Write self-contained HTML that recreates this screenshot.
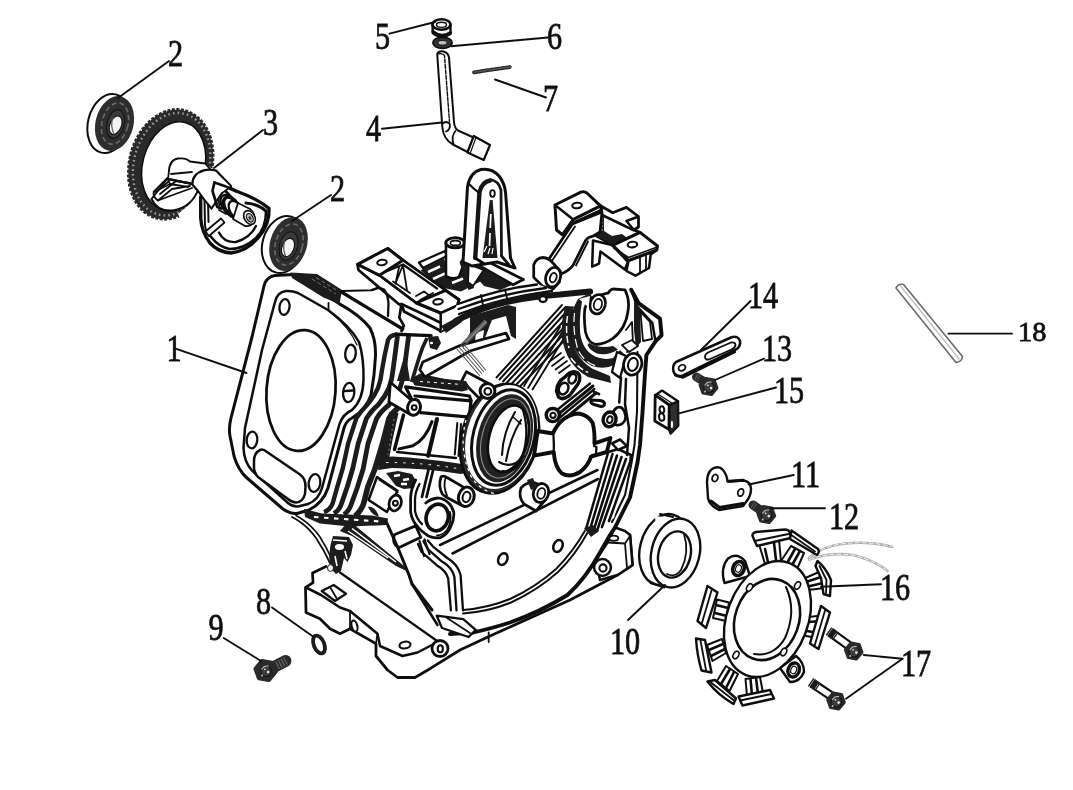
<!DOCTYPE html>
<html><head><meta charset="utf-8"><title>Crankcase assembly</title>
<style>
html,body{margin:0;padding:0;background:#fff;}
body{width:1073px;height:790px;overflow:hidden;font-family:"Liberation Serif",serif;}
svg{display:block;}
.l{stroke:#111;stroke-width:1.8;fill:none;stroke-linecap:round;stroke-linejoin:round;}
.t{stroke:#111;stroke-width:1.2;fill:none;stroke-linecap:round;stroke-linejoin:round;}
.h{stroke:#111;stroke-width:2.7;fill:none;stroke-linecap:round;stroke-linejoin:round;}
.hh{stroke:#111;stroke-width:3.6;fill:none;stroke-linecap:round;stroke-linejoin:round;}
.w{fill:#fff;}
.k{fill:#1a1a1a;stroke:none;}
.g{fill:#444;stroke:none;}
text{font-family:"Liberation Serif",serif;fill:#111;}
</style></head><body>
<svg width="1073" height="790" viewBox="0 0 1073 790">
<defs><filter id="soft" x="0" y="0" width="100%" height="100%" filterUnits="userSpaceOnUse"><feGaussianBlur stdDeviation="0.5"/></filter></defs>
<rect width="1073" height="790" fill="#fff"/>
<g filter="url(#soft)">
<g id="sil">
<!-- silhouette fill -->
<path class="w" d="M404 326 L441 331 L457 320 Q500 300 560 293 L592 291 L613 289 L631 290 L660 318 L662 336 L646 356 L644 400 L640 460 L630 498 L615 528 L632 536 L633 565 L570 600 L490 636 L430 669 L415 678 L397 678 L376 656 L376 644 L350 629 L340 634 L320 619 L306 612 L306 588 L312 572 L330 520 L362 517 L385 440 Z"/>
</g>

<!-- BEARING A (top-left) -->
<g id="bearingA">
<ellipse cx="108.5" cy="123.5" rx="20.5" ry="30" transform="rotate(14 108.5 123.5)" class="w l" style="stroke-width:2"/>
<ellipse cx="114.5" cy="123.5" rx="19" ry="27.9" transform="rotate(13.7 114.5 123.5)" fill="#2e2e2e"/>
<ellipse cx="115" cy="123.5" rx="13" ry="21" transform="rotate(14 115 123.5)" fill="none" stroke="#6a6a6a" stroke-width="1.6" stroke-dasharray="5 3"/>
<ellipse cx="115.5" cy="124" rx="8.5" ry="14.5" transform="rotate(14 115.5 124)" fill="#3a3a3a" stroke="#111" stroke-width="1"/>
<ellipse cx="115.6" cy="125.2" rx="5.8" ry="9.6" transform="rotate(22 115.6 125.2)" fill="#f4f4f4" stroke="#111" stroke-width="1.2"/>
<path d="M112.5 118 Q110.5 126 113.5 133" class="t" style="stroke:#555"/>
</g>
<!-- BEARING B -->
<g id="bearingB">
<ellipse cx="283.5" cy="244.5" rx="21" ry="29" transform="rotate(16 283.5 244.5)" class="w l" style="stroke-width:2"/>
<ellipse cx="288.5" cy="244" rx="18.5" ry="27.5" transform="rotate(16 288.5 244)" fill="#2e2e2e"/>
<ellipse cx="289" cy="244.5" rx="13.5" ry="21" transform="rotate(16 289 244.5)" fill="none" stroke="#6a6a6a" stroke-width="1.6" stroke-dasharray="5 3"/>
<ellipse cx="288.5" cy="246" rx="9" ry="14.5" transform="rotate(16 288.5 246)" fill="#3a3a3a" stroke="#111" stroke-width="1"/>
<ellipse cx="288" cy="247.5" rx="6" ry="9.6" transform="rotate(22 288 247.5)" fill="#f4f4f4" stroke="#111" stroke-width="1.2"/>
<path d="M284.5 241 Q282.5 249 285.5 256" class="t" style="stroke:#555"/>
</g>
<!-- GEAR -->
<g id="gear">
<path fill-rule="evenodd" fill="#2a2a2a" d="
M170.7 164.4 m-42.8 0 a42.8 57.1 0 1 0 85.6 0 a42.8 57.1 0 1 0 -85.6 0 Z
M173.9 165 m-31 0 a31 44.8 0 1 0 62 0 a31 44.8 0 1 0 -62 0 Z" transform="rotate(14.8 170.7 164.4)"/>
<ellipse cx="170.7" cy="164.4" rx="42.8" ry="57.1" transform="rotate(14.8 170.7 164.4)" fill="none" stroke="#fff" stroke-width="3" stroke-dasharray="1.6 3.1"/>
<ellipse cx="171.6" cy="164.2" rx="37.6" ry="52" transform="rotate(14.8 171.6 164.2)" fill="none" stroke="#9a9a9a" stroke-width="2.4" stroke-dasharray="1.6 3.1" stroke-dashoffset="2"/>
<ellipse cx="173.9" cy="165" rx="31" ry="44.8" transform="rotate(14.8 170.7 164.4)" fill="none" stroke="#111" stroke-width="1.6"/>
<path class="w" d="M178 214 L190 204 L199 189 L207 168 L218 168 L218 216 L184 226 Z"/>
</g>

<!-- CAMSHAFT -->
<g id="camshaft">
<!-- hub behind -->
<path class="w l" d="M151.5 199 Q158 213 175 210 Q192 206 198 190 L192 184 L167 179 Z" style="stroke-width:2"/>
<path class="w l" d="M168.8 172.6 Q169 160 178 158.5 Q186 157.5 190 161.5 L205 163.5 L210 169 L193 184 L168 179 Z" style="stroke-width:1.8"/>
<!-- left spindle lines -->
<path class="l" d="M192.4 184 L167 178.5 L153.7 191.6 Q152.5 197 158 200.5 L170 196 L192 188"/>
<path class="l" d="M167.3 178 L170 184 L154 192"/>
<path class="l" d="M170 184 L188 187 M158 200.5 L172 189 L190 186 M171 174 L192 172 M160 194 L176 181 L190 183 M156 192 L168 182"/>
<!-- cam lobe pear -->
<path class="w hh" d="M214.4 182.5 Q226 186 236 191 Q258 199 269 208.5 Q270 224 258 238 Q247 251 231 253 Q218 252 210 243 Q201.5 232 200.7 218 L200.7 197 Z" style="stroke-width:3.4"/>
<path class="h" d="M266 212 Q266 228 256 238 Q244 249 229.6 249 Q219 247 212 238 L206.8 232" style="stroke-width:2.6"/>
<path class="h" d="M204.5 198 L205 226 Q206 232 209 236 M208 200 L208.5 222" style="stroke-width:2"/>
<path class="h" d="M219 232.6 Q224 243 236 242 Q250 238 256 226" style="stroke-width:2.4"/>
<!-- bar -->
<path class="w l" d="M205.5 231.5 L221 218.5 L224.5 222.5 L209 236 Z"/>
<!-- triangle web -->
<path class="h" d="M216 182.5 L212.5 191 L217.4 207 L221 208.5 M219 184 L232 198"/>
<path class="l" d="M216.5 186 L219.5 206"/>
<!-- cylinder (white journal) -->
<path class="w h" d="M192.4 184.5 Q192 174 203.8 170.4 Q210 168.6 216 170.6 L231 186 L222 193 L211.5 208.5 Q204 200 198 191 Z" style="stroke-width:2.2"/>
<path class="w" d="M214 171 L230 186 L222 192 Z" />
<path class="l" d="M216 170.6 L231.5 186.5" style="stroke-width:1.2"/>
<path class="h" d="M214.4 182.5 L212.5 191 L217.4 206.8" />
<path class="h" d="M214.4 182.5 Q226 186 236 191"/>
<!-- spring / bolt -->
<ellipse cx="228.5" cy="205" rx="6.5" ry="11" transform="rotate(-32 228.5 205)" fill="#fff" stroke="#111" stroke-width="2.4"/>
<ellipse cx="231.5" cy="207" rx="6.5" ry="11" transform="rotate(-32 231.5 207)" fill="#fff" stroke="#111" stroke-width="3.6"/>
<ellipse cx="236" cy="210" rx="6" ry="10" transform="rotate(-32 236 210)" fill="#fff" stroke="#111" stroke-width="2.2"/>
<path class="w l" d="M238 203 L250 209 Q256 214 254 221 Q251 227 245 226 L233 219 Z"/>
<ellipse cx="249.5" cy="217.5" rx="5.2" ry="7.4" transform="rotate(-32 249.5 217.5)" fill="#fff" stroke="#111" stroke-width="1.6"/>
<ellipse cx="249.8" cy="217.8" rx="3" ry="4.6" transform="rotate(-32 249.8 217.8)" fill="#bbb" stroke="#111" stroke-width="1.2"/>
<ellipse cx="250" cy="218" rx="1.2" ry="2" transform="rotate(-32 250 218)" fill="#333"/>
<path class="h" d="M246 203 Q258 204 266 211" style="stroke-width:3"/>
<path class="l" d="M219 210 L226 214 M222 207.5 L228 211"/>
</g>

<!-- CAP 5 -->
<g id="cap5">
<path class="w h" d="M432.5 25 L432.8 33 Q441 40 450.5 34 L450.5 25 Z" style="stroke-width:2.4"/>
<path class="h" d="M432.8 31.5 Q441 38.5 450.5 32.5" style="stroke-width:3"/>
<ellipse cx="441.5" cy="24.5" rx="9" ry="5.2" fill="#fff" stroke="#111" stroke-width="2.6"/>
<ellipse cx="441.5" cy="24.8" rx="5" ry="2.6" fill="#fff" stroke="#111" stroke-width="1.4"/>
</g>
<!-- WASHER 6 -->
<g id="washer6">
<ellipse cx="442.5" cy="42.8" rx="9.6" ry="5.6" fill="#333" stroke="#111" stroke-width="1.8"/>
<ellipse cx="442.5" cy="42.8" rx="4.6" ry="2.3" fill="#bbb" stroke="#111" stroke-width="1"/>
</g>
<!-- TUBE 4 -->
<g id="tube4">
<path class="w h" d="M437.2 54 Q439 50.5 443.5 51.5 Q448.5 53 449 57.5 L454 122 Q454.5 128 458 130.5 L473.5 137.5 L467.5 152 L453 144.5 Q443.5 139.5 442.3 127 Z" style="stroke-width:2"/>
<path class="l" d="M437.4 54 Q441 52.5 444.5 55.5 L449.5 122" style="stroke-dasharray:4 1.5;stroke-width:1.4"/>
<path class="l" d="M442.3 124 Q446 120 449.8 124 Q450.5 130 446 131.5"/>
<path class="l" d="M455.5 131 Q451 136 453.5 144.5"/>
<path class="w h" d="M473.7 136 L490 145 L483.7 160 L467.5 152.5 Z" style="stroke-width:2.2"/>
<path class="l" d="M476 137.5 L470.5 152.5" style="stroke-width:1.2"/>
</g>
<!-- PIN 7 -->
<g id="pin7">
<path d="M474 72.3 L511 66.8" stroke="#222" stroke-width="3.8" stroke-linecap="round" stroke-dasharray="3.6 1.8" fill="none"/>
<path d="M474 72.3 L511 66.8" stroke="#555" stroke-width="1.6" stroke-linecap="round" fill="none"/>
</g>

<!-- PART 14 slotted link -->
<g id="link14">
<path class="w h" d="M676 362 L731 337.5 Q738 335 740 341 Q741 347 735 350 L683 375.5 Q676 378 673.5 371.5 Q672 365 676 362 Z" style="stroke-width:2.6"/>
<path class="l" d="M708 352.5 L731 342.5 Q735.5 342 735.5 345 Q735 348 731.5 349.5 L709 359.5 Q705 360 705 357 Q705 354 708 352.5 Z" style="stroke-width:1.8"/>
<ellipse cx="682" cy="367.8" rx="3.6" ry="2.8" transform="rotate(-25 682 367.8)" class="l"/>
<path class="h" d="M675 375 L683 377.5 L735 352" style="stroke-width:2.4"/>
</g>
<!-- BOLT 13 -->
<g id="bolt13">
<path d="M696.5 377 L704 381.5" stroke="#2a2a2a" stroke-width="9" stroke-linecap="round"/>
<path d="M696 376.6 L700 379" stroke="#5a5a5a" stroke-width="6" stroke-dasharray="1 1.4"/>
<path d="M716.8 388.0 L711.4 394.4 L703.1 392.9 L700.2 385.0 L705.6 378.6 L713.9 380.1 Z" fill="#2a2a2a" stroke="#2a2a2a" stroke-width="3.4" stroke-linejoin="round"/>
<circle cx="709.0" cy="387.3" r="5.2" fill="#3d3d3d" stroke="#161616" stroke-width="1.2"/>
<path d="M704.9 385.1 Q707.0 381.3 711.1 382.1" fill="none" stroke="#bdbdbd" stroke-width="1.1" stroke-linecap="round"/>
<circle cx="711.1" cy="388.1" r="1.3" fill="#e6e6e6"/>
<circle cx="705.1" cy="391.5" r="0.9" fill="#cfcfcf"/>
<circle cx="707.9" cy="385.3" r="0.9" fill="#d8d8d8"/>
</g>
<!-- CLIP 15 -->
<g id="clip15">
<path d="M669.2 405 L678 401.3 L678.3 425.6 L670.6 433.6 L668.9 429.4 Z" fill="#2e2e2e" stroke="#151515" stroke-width="2.4" stroke-linejoin="round"/>
<ellipse cx="671.9" cy="424.4" rx="1.1" ry="3.6" fill="#fff"/>
<path class="w h" d="M655.2 395.2 L662 390.6 L678 401.3 L669.2 405 Z" style="stroke-width:2.4"/>
<path class="l" d="M658.5 394.5 L672.5 403.5" style="stroke-width:1.4"/>
<path class="w h" d="M655.2 395.2 L669.2 405 L668.9 429.4 L654.8 421 Z" style="stroke-width:2.8"/>
<ellipse cx="661.9" cy="409.6" rx="2.3" ry="3.3" transform="rotate(-8 661.9 409.6)" class="w l" style="stroke-width:2"/>
<ellipse cx="661.7" cy="417" rx="2.6" ry="3.8" transform="rotate(-8 661.7 417)" class="w l" style="stroke-width:2"/>
</g>
<!-- BRACKET 11 -->
<g id="bracket11">
<path class="w h" d="M707 482.5 Q707 473 712 469 Q717.5 465.5 722 469 Q727 474 727.5 481.5 L744 480.5 Q751 482 751 489 Q751 496 746 502 L743 506 L719 510 Q709 505 708 498 Z" style="stroke-width:2.4"/>
<path class="h" d="M711 501 L719.5 507.5 L743 503.5" style="stroke-width:3"/>
<ellipse cx="715" cy="478" rx="2.8" ry="3.6" transform="rotate(25 715 478)" class="l"/>
<ellipse cx="740.7" cy="492.5" rx="2.8" ry="3.8" transform="rotate(20 740.7 492.5)" class="l"/>
<path class="h" d="M729 481.3 L743 480.3" style="stroke-width:3"/>
</g>
<!-- BOLT 12 -->
<g id="bolt12">
<path d="M753 505 L761 510.5" stroke="#2a2a2a" stroke-width="9" stroke-linecap="round"/>
<path d="M752.5 504.6 L756.5 507.4" stroke="#5a5a5a" stroke-width="6" stroke-dasharray="1 1.4"/>
<path d="M774.5 516.0 L769.1 522.4 L760.8 520.9 L757.9 513.0 L763.3 506.6 L771.6 508.1 Z" fill="#2a2a2a" stroke="#2a2a2a" stroke-width="3.4" stroke-linejoin="round"/>
<circle cx="766.7" cy="515.3" r="5.2" fill="#3d3d3d" stroke="#161616" stroke-width="1.2"/>
<path d="M762.6 513.1 Q764.7 509.3 768.8 510.1" fill="none" stroke="#bdbdbd" stroke-width="1.1" stroke-linecap="round"/>
<circle cx="768.8" cy="516.1" r="1.3" fill="#e6e6e6"/>
<circle cx="762.8" cy="519.5" r="0.9" fill="#cfcfcf"/>
<circle cx="765.6" cy="513.3" r="0.9" fill="#d8d8d8"/>
</g>
<!-- PIN 18 -->
<g id="pin18">
<path d="M896 288 Q898.5 283.5 903.5 284.5 L962.5 356.5 Q962 362 956 362.5 Z" fill="#fff" stroke="#6a6a6a" stroke-width="1.6" stroke-linejoin="round"/>
<path d="M900.5 286 L959.5 359.5" stroke="#bdbdbd" stroke-width="1.2" fill="none"/>
</g>
<!-- SEAL 10 -->
<g id="seal10">
<ellipse cx="664.5" cy="549.5" rx="24.5" ry="36" transform="rotate(14 664.5 549.5)" class="w l" style="stroke-width:2.4"/>
<path class="w" d="M655 516 L680 519 L690 585 L660 586 Z"/>
<path class="l" d="M660 514 L673 517 M650.5 583 L664.5 587.5" style="stroke-width:2"/>
<ellipse cx="675.5" cy="553" rx="24" ry="35" transform="rotate(14 675.5 553)" class="w l" style="stroke-width:2.4"/>
<ellipse cx="674.5" cy="554.5" rx="16" ry="23.5" transform="rotate(14 674.5 554.5)" class="w l" style="stroke-width:2.4"/>
<path class="l" d="M684 534.5 Q690 552 681 570 Q675 578 667 574" style="stroke-width:1.8"/>
</g>
<!-- WASHER 8 -->
<ellipse cx="319" cy="644.5" rx="5.2" ry="9.4" transform="rotate(-22 319 644.5)" fill="#fff" stroke="#1c1c1c" stroke-width="3.8"/>
<!-- BOLT 9 -->
<g id="bolt9">
<path d="M274 667 L285.5 661" stroke="#2a2a2a" stroke-width="12" stroke-linecap="round"/>
<path d="M277 665.5 L286 661" stroke="#666" stroke-width="8.5" stroke-dasharray="1.2 1.8" />
<path d="M275.2 672.2 L268.8 679.8 L259 678 L255.6 668.8 L262 661.2 L271.8 663 Z" fill="#2a2a2a" stroke="#2a2a2a" stroke-width="4.4" stroke-linejoin="round"/>
<circle cx="266.0" cy="671.3" r="5.2" fill="#3d3d3d" stroke="#161616" stroke-width="1.2"/>
<path d="M261.9 669.1 Q264.0 665.3 268.1 666.1" fill="none" stroke="#bdbdbd" stroke-width="1.1" stroke-linecap="round"/>
<circle cx="268.1" cy="672.1" r="1.3" fill="#e6e6e6"/>
<circle cx="262.1" cy="675.5" r="0.9" fill="#cfcfcf"/>
<circle cx="264.9" cy="669.3" r="0.9" fill="#d8d8d8"/>
</g>

<!-- STATOR 16 -->
<g id="stator16">
<!-- wires -->
<path d="M809 558 Q822 546 845 543.5 Q872 541 892 547" fill="none" stroke="#a6a6a6" stroke-width="2.6" stroke-linecap="round"/>
<path d="M809 559.5 Q830 552 853 555 Q874 560 887.5 571" fill="none" stroke="#adadad" stroke-width="2.6" stroke-linecap="round"/>
<path d="M809 558 Q822 546 845 543.5 Q872 541 892 547" fill="none" stroke="#fff" stroke-width="0.9" stroke-dasharray="5 2"/>
<path d="M809 559.5 Q830 552 853 555 Q874 560 887.5 571" fill="none" stroke="#fff" stroke-width="0.9" stroke-dasharray="5 2"/>
<!-- pole stems (drawn first, under ring) -->
<g class="w h" style="stroke-width:2">
<path d="M759 544 L765 564 L781 561 L779 540 Z"/>
<path d="M791 546 L779 564 L797 569 L804 553 Z"/>
<path d="M803 579 L819 572 L824.5 588 L808 590 Z"/>
<path d="M809 617 L821 615.5 L816.5 638 L804 635.5 Z"/>
<path d="M717 599.5 L729 602.5 L726 621 L713 618 Z"/>
<path d="M707 645 L722 639 L726 653 L712.5 661 Z"/>
<path d="M717 681 L726 666 L738 674 L729.5 691 Z"/>
<path d="M747 696 L745.5 679 L760 677 L763 693 Z"/>
</g>
<g class="l" style="stroke-width:2.6">
<path d="M765 549 L768 562 M774 543 L776 560"/>
<path d="M795 549 L786 565 M800 551 L791 567"/>
<path d="M806 582 L821 577 M808 586.5 L823 583"/>
<path d="M809 622 L820 621 M807 631 L818 633"/>
<path d="M716 605 L728 608 M715 613 L727 616"/>
<path d="M709 650 L723 644 M711 656 L725 649"/>
<path d="M721 684 L730 669 M726 688 L734 672"/>
<path d="M752 695.5 L750.5 679 M758 694 L756 678"/>
</g>
<!-- pole caps -->
<g class="w h" style="stroke-width:2.4">
<path d="M752.5 536 Q752 533 756 532 L785 529.5 Q789 529.5 790 533 L790.5 538 L757 546 Z"/>
<path d="M791.5 530.5 L818 549 Q820 552 817 555 L812 552 L790 539 Z"/>
<path d="M817.5 561 Q826 568 831 580 L830 596 L823.5 594 L821 578 L815.5 566 Z"/>
<path d="M821 606 L830 612.5 L818.5 649 L810 643.5 Z"/>
<path d="M707.5 586 L717.5 592.5 L706 628 L697.5 621 Z"/>
<path d="M696 638.5 L705 640 L711.5 672.5 L701.5 670.5 Q697 655 696 638.5 Z"/>
<path d="M707.5 681.5 L715 680 L736 698.5 L733.5 704 Q718 695 707.5 681.5 Z"/>
<path d="M738.5 696.5 L770 690 L774 698.5 L742.5 705.5 Z"/>
</g>
<g class="l" style="stroke-width:1.8">
<path d="M754.5 541 L788.5 534"/>
<path d="M792 535.5 L815 551.5"/>
<path d="M819.5 566 L826.5 580 L826 593"/>
<path d="M825 610.5 L814.5 646"/>
<path d="M711.5 590.5 L701.5 624.5"/>
<path d="M700.5 640.5 L706 670"/>
<path d="M711 682.5 L734 700.5"/>
<path d="M740 700.5 L771.5 694"/>
</g>
<!-- ears -->
<path class="w h" d="M724.5 583 Q720 568 728 558.5 Q737 552 745 561 L750 576 Z" style="stroke-width:2.4"/>
<path class="w h" d="M780 668 L790 682 Q800 682 804 672 Q804 662 796 656 Z" style="stroke-width:2.4"/>
<!-- ring plate -->
<path fill-rule="evenodd" class="w h" style="stroke-width:2.4" d="M767.5 619 m-40.5 0 a40.5 60 0 1 0 81 0 a40.5 60 0 1 0 -81 0 Z" transform="rotate(21 767.5 619)"/>
<ellipse cx="738.5" cy="568.5" rx="5.6" ry="7.2" transform="rotate(21 738.5 568.5)" fill="#fff" stroke="#111" stroke-width="3.6"/>
<ellipse cx="738.5" cy="568.5" rx="2.8" ry="3.8" transform="rotate(21 738.5 568.5)" fill="#fff" stroke="#111" stroke-width="1.2"/>
<ellipse cx="793.7" cy="670" rx="5.6" ry="7.2" transform="rotate(21 793.7 670)" fill="#fff" stroke="#111" stroke-width="3.4"/>
<ellipse cx="793.7" cy="670" rx="2.8" ry="3.8" transform="rotate(21 793.7 670)" fill="#fff" stroke="#111" stroke-width="1.2"/>
<!-- bore -->
<ellipse cx="767" cy="619.5" rx="31.8" ry="41.6" transform="rotate(20 767 619.5)" class="w h" style="stroke-width:2.6"/>
<path class="l" d="M786 587 Q797 611 785 638 Q774 657 754 654" style="stroke-width:2"/>

<!-- mounting holes -->
<g class="w l" style="stroke-width:1.6">
<ellipse cx="749.5" cy="587.5" rx="2.6" ry="4" transform="rotate(30 749.5 587.5)"/>
<ellipse cx="797.5" cy="585.5" rx="2.6" ry="4" transform="rotate(30 797.5 585.5)"/>
<ellipse cx="736" cy="655" rx="2.6" ry="4" transform="rotate(30 736 655)"/>
<ellipse cx="783.7" cy="652" rx="2.6" ry="4" transform="rotate(30 783.7 652)"/>
</g>
</g>
<!-- BOLTS 17 -->
<g id="bolts17">
<path d="M830 632 L850 646.5" stroke="#111" stroke-width="9.6" stroke-linecap="butt"/>
<path d="M834.5 635.2 L850 646.5" stroke="#fff" stroke-width="5.4"/>
<path d="M828.5 631 L836 636.5" stroke="#222" stroke-width="9.6" stroke-dasharray="1.4 1.2"/>
<path d="M861.8 652.4 L856.5 658.7 L848.4 657.3 L845.6 649.6 L850.9 643.3 L859.0 644.7 Z" fill="#2a2a2a" stroke="#2a2a2a" stroke-width="3.4" stroke-linejoin="round"/>
<circle cx="854.2" cy="651.8" r="5.2" fill="#3d3d3d" stroke="#161616" stroke-width="1.2"/>
<path d="M850.1 649.6 Q852.2 645.8 856.3 646.6" fill="none" stroke="#bdbdbd" stroke-width="1.1" stroke-linecap="round"/>
<circle cx="856.3" cy="652.6" r="1.3" fill="#e6e6e6"/>
<circle cx="850.3" cy="656.0" r="0.9" fill="#cfcfcf"/>
<circle cx="853.1" cy="649.8" r="0.9" fill="#d8d8d8"/>
<path d="M812 683 L832 696.5" stroke="#111" stroke-width="9.6" stroke-linecap="butt"/>
<path d="M816.5 686.2 L832 696.5" stroke="#fff" stroke-width="5.4"/>
<path d="M810.5 682 L818 687.2" stroke="#222" stroke-width="9.6" stroke-dasharray="1.4 1.2"/>
<path d="M844.1 702.4 L838.8 708.7 L830.7 707.3 L827.9 699.6 L833.2 693.3 L841.3 694.7 Z" fill="#2a2a2a" stroke="#2a2a2a" stroke-width="3.4" stroke-linejoin="round"/>
<circle cx="836.5" cy="701.8" r="5.2" fill="#3d3d3d" stroke="#161616" stroke-width="1.2"/>
<path d="M832.4 699.6 Q834.5 695.8 838.6 696.6" fill="none" stroke="#bdbdbd" stroke-width="1.1" stroke-linecap="round"/>
<circle cx="838.6" cy="702.6" r="1.3" fill="#e6e6e6"/>
<circle cx="832.6" cy="706.0" r="0.9" fill="#cfcfcf"/>
<circle cx="835.4" cy="699.8" r="0.9" fill="#d8d8d8"/>
</g>

<!-- CRANKCASE: CYLINDER FLANGE + FINS -->
<g id="flange">
<!-- top fin band (dark) behind flange -->
<!-- fin body silhouette -->
<path class="w" d="M341 296 L372 316 Q392 322 418 336 L430 360 L405 440 L385 500 L370 522 L330 520 L300 512 Z"/>
<!-- outer flange -->
<path class="w h" d="M252 337 L264 286 Q266 277 275 275.5 L293 274.5 L339 303.6 Q360 315 370 328 Q376 340 375.5 356 L374 375 L371 395 Q366 410 352 418 Q346 421 344 428 L328 488 Q323 503 309 510 L297 513.5 Q290 514 283 509 L247 478 Q238 470 234 456 L230 436 Q228.5 428 231 418 Z" style="stroke-width:2.99"/>
<!-- inner gasket face -->
<path class="l" d="M262 350 L275 302 Q277 292 286 291 Q292 290.5 298 293 L328 310 Q350 326 359 342 Q364 358 363.5 380 Q363 400 352 410 Q343 414 339.5 424 L322 488 Q318.5 500 308 504 L298 506.5 Q293 507 288 503 L252 470.5 Q244 462 243.5 448 L245 428 Z" style="stroke-width:2.53"/>
<!-- bore -->
<ellipse cx="301" cy="390.5" rx="34.5" ry="60.5" transform="rotate(4 301 390.5)" class="w h" style="stroke-width:2.76"/>
<!-- bolt holes -->
<g class="w l" style="stroke-width:2.3">
<ellipse cx="284.5" cy="307" rx="5" ry="8" transform="rotate(8 284.5 307)"/>
<ellipse cx="350.5" cy="353.5" rx="5.3" ry="8.8" transform="rotate(5 350.5 353.5)"/>
<ellipse cx="348.7" cy="392.5" rx="5.6" ry="9.6" transform="rotate(5 348.7 392.5)"/>
<ellipse cx="252" cy="440" rx="5.3" ry="8.4" transform="rotate(5 252 440)"/>
<ellipse cx="314.5" cy="483" rx="5.8" ry="9" transform="rotate(8 314.5 483)"/>
</g>
<path class="l" d="M344.5 391 L353 390.5" style="stroke-width:2.3"/>
<!-- port -->
<path class="w l" d="M254 461 Q254 453 260 450 Q263 448.5 267 452 L300 474.5 Q306 479 305.5 487 L305 494 Q303 502 296 502.5 Q292 502.5 288 499 L258 477 Q253.5 472 254 466 Z" style="stroke-width:2.53"/>
<!-- fin bands -->
<g fill="none" stroke="#1c1c1c" stroke-linecap="butt" stroke-linejoin="round">
<path d="M397 334.5 Q390 335 388 340 Q384.5 355 382 370 Q381 380 378 388 Q374 397 367 405 Q361 411 356.3 418.4 L348.1 443.6 L342.7 468.7 L337.3 486.8 L332.6 503.6 Q330 510 324 512" stroke-width="4.4"/>
<path d="M397.5 336 Q395 355 393 370 Q392 380 389 388 Q385 397 378 405 Q371 411 366.4 418.4 L358.2 443.6 L352.7 468.7 L347.3 486.8 L341.5 503.6 Q339.5 510 334 513.5" stroke-width="4.8"/>
<path d="M408.6 336 Q406 355 404.4 370 Q403 380 400 388 Q396 397 389 405 Q381 411 376.6 418.4 L368 443.6 L363.2 468.7 L357.6 486.8 L351.5 503.6 Q349.5 510.5 344 514.5" stroke-width="4.8"/>
<path d="M398 408 Q392 413 389 418.4 L382.5 443.6 L375 468.7 L367.9 486.8 L363.6 503.6 Q361 511 355 516" stroke-width="5.6"/>
<path d="M427 338 Q422 348 419.6 356 L415 371 L411.6 382" stroke-width="3.68"/>
<path d="M405.4 352 L410 381 L397 381 Z" fill="#1c1c1c" stroke="none"/>
</g>
<!-- fin tops rounded -->
<!-- dotted dark band top of flange -->
<path class="k" d="M290.3 272.4 L317 274 L342 290 L339.5 304 L323.5 297.5 L292 278 Z"/>
<path d="M312 279 L336 294 M316 277.5 L338 291" stroke="#777" stroke-width="1.0" stroke-dasharray="4 2.5" fill="none"/>
<path class="l" d="M328.5 303 L328.5 310"/>
<path class="t" d="M330 312 Q350 328 357 345"/>
</g>

<!-- CRANKCASE TOP: cylinder top, left mount, tube, lug -->
<g id="casetop">
<!-- cylinder top surface lines -->
<path class="w" d="M342 290 L378 287 L400 300 L404 330 L396 326 Z"/>
<path class="h" d="M342.3 292.5 L402.7 329" style="stroke-width:3.22"/>
<path class="l" d="M342 291 L371 290.2 Q376 289.5 379.5 286.5" style="stroke-width:2.07"/>
<!-- dark area behind tube -->
<path class="k" d="M420.5 270.3 L444 258.6 L447 268 L486 262 L498 272 L470 287 L461 291.5 L440.7 287.5 Z"/>
<path d="M428 272 L440 266.5 M433 279 L445 273.5 M452 283 L463 278.5 M470 276.5 L482 271" stroke="#fff" stroke-width="2.53" fill="none"/>
<!-- white slab right of tube -->
<path class="w l" d="M471 262 L481 257.5 L494 267 L484 272 Z" style="stroke-width:1.61"/>
<!-- far frame rail -->
<path class="w h" d="M419 262.5 L445 251 L447 256 L423 268 Z" style="stroke-width:2.3"/>
<!-- mount frame : front face -->
<path class="w h" d="M357.6 264.4 L358.5 270 L398.7 304 L402 305.5 L404 311.5 L439 330 L440.7 331.5 L455.8 324 L457.4 305.5 L459 299.7 L445.7 290.4 L402.9 260.2 L387.8 248.5 Z" style="stroke-width:2.76"/>
<!-- frame interior opening -->
<path class="w l" d="M379.4 275.3 L402.9 260.2 L445.7 290.4 L416.3 303 Z" style="stroke-width:2.53"/>
<path class="h" d="M385 272 L403 264.5 L437 288.5" style="stroke-width:2.3"/>
<path class="l" d="M395.4 283.7 L403 265 L407 290.4 M393 281.5 L410 293 M395.4 283.7 L399 267.5"/>
<path class="l" d="M416 296 L424 291.5 L430 296 M420 300 L433 293"/>
<!-- plates -->
<path class="w h" d="M357.6 264.4 L387.8 248.5 L402.9 260.2 L379.4 275.3 Z" style="stroke-width:2.99"/>
<ellipse cx="382" cy="262.5" rx="4.8" ry="2.7" transform="rotate(-8 382 262.5)" class="w l" style="stroke-width:2.07"/>
<path class="w h" d="M416.3 303 L445.7 290.4 L459 299.7 L457.4 305.5 L440.7 313 Z" style="stroke-width:2.99"/>
<ellipse cx="438" cy="301.8" rx="4.8" ry="2.7" transform="rotate(-8 438 301.8)" class="w l" style="stroke-width:2.07"/>
<path class="h" d="M440.7 313 L440.7 331.5 M357.6 264.4 L379.4 275.3 L416.3 303 L440.7 313" style="stroke-width:2.53"/>
<path class="h" d="M402.5 304.5 L428 316.5 L440 322.5" style="stroke-width:2.53"/>
<path class="h" d="M401.5 304 L399.3 317.6 L403.8 325.6 L401.5 331" style="stroke-width:2.76"/>
<path class="h" d="M372 290 Q379 286.5 384 289.5 Q388 295 388.5 303 L388 316" style="stroke-width:2.3"/>
<!-- breather tube -->
<path class="w h" d="M446 243.5 L446 276 Q452 280 459 277 L464.5 262 L464.5 243.5 Z" style="stroke-width:2.53"/>
<path class="k" d="M459.5 262 L463.5 257 L474 288 L468.5 290 Z"/>
<ellipse cx="455.2" cy="242.8" rx="9.4" ry="5" class="w h" style="stroke-width:2.99"/>
<ellipse cx="455.4" cy="243" rx="5" ry="2.4" class="w l" style="stroke-width:1.61"/>
<!-- rail from lug base to boss -->
<path class="w h" d="M474 262.6 L480.5 258 L523.5 279.6 L513 284.8 Z" style="stroke-width:2.76"/>
<path class="k" d="M468 268 L476 264 L512 285 L500 290 L484 286 Z"/>
<path class="w l" d="M468.7 264.5 L483.7 270 L473 286 L468 282 Z" style="stroke-width:1.84"/>
<!-- LIFTING LUG -->
<path class="w h" d="M463 262 L467.5 187 Q470 172 481 169.5 Q492 168 499 176 Q504.5 183 505.5 192 L510.5 258 L515 268 L497 262 L472 266 Z" style="stroke-width:2.99"/>
<path d="M475.2 258 L479.5 192 Q482 182 490 180.5" fill="none" stroke="#151515" stroke-width="4.4" stroke-linejoin="round" stroke-linecap="round"/>
<path d="M490 179.5 Q498.5 180.5 501 190 L501.5 256" fill="none" stroke="#151515" stroke-width="2.76" stroke-linejoin="round"/>
<path class="h" d="M469 184 Q476 191 479 192.5" style="stroke-width:2.3"/>
<ellipse cx="492.5" cy="193.5" rx="2.3" ry="3.3" class="w l" style="stroke-width:1.84"/>
<path class="k" d="M489.8 200 L492.6 200 L497.5 258 L482.5 258 Z"/>
<path d="M490.8 214 L489.5 246" stroke="#fff" stroke-width="1.72" fill="none" stroke-dasharray="14 5"/>
<path d="M484 252 L487 246 M488 254 L490 248 M492 254 L493 248" stroke="#fff" stroke-width="1.2" fill="none"/>
<path class="h" d="M501.5 256 L509 265 M475 258 L483 263" style="stroke-width:2.76"/>
</g>

<!-- CRANKCASE TOP-RIGHT BRACKET -->
<g id="rbracket">
<!-- lower block -->
<path class="w h" d="M593 240.5 L592.2 266.6 L599 263.6 L600.5 251.4 L624.8 269.6 L628 262 L612 245 Z" style="stroke-width:2.53"/>
<!-- plate 2 front -->
<path class="w h" d="M628.6 260.5 L626.4 271 L635.5 275.7 L649 268 L650.7 254.5 L656.8 250 Z" style="stroke-width:2.53"/>
<path class="l" d="M640 258 L640 272.5 M646 255 L646 269.5"/>
<!-- bridge / back part -->
<path class="w h" d="M600.5 205.8 L612.7 212.7 L626.4 207.4 L638.5 216.5 L638.5 227 L634 230 L640 232.4 L612.7 245.3 L594.5 234.7 L602 231.7 L602 215 Z" style="stroke-width:2.76"/>
<path class="h" d="M626.4 221 L634 230 M626.4 221 L638 216.8" style="stroke-width:2.53"/>
<path class="k" d="M600 215 L604 215 L604 231 L612 236 L622 234 L628 238.5 L613 245.3 L594.5 234.7 L600 232 Z"/>
<path class="h" d="M602 215 L633.2 230" style="stroke-width:2.53"/>
<path d="M602 218 L602 231" stroke="#fff" stroke-width="0.9" stroke-dasharray="2 1.6"/>
<!-- plate 2 top -->
<path class="w h" d="M612.7 245.3 L640 232.4 L657.5 246 L656.8 250 L628.6 260.5 Z" style="stroke-width:2.99"/>
<path class="l" d="M614 248 L628.6 257.5 L656 247.5" style="stroke-width:1.61"/>
<ellipse cx="632.4" cy="244.6" rx="4.8" ry="2.8" transform="rotate(-6 632.4 244.6)" class="w l" style="stroke-width:2.07"/>
<!-- arm -->
<path class="w h" d="M572.4 224 L548.9 259 L561 274.2 Q570 270 573.2 265 L585.3 240.8 Q588 237 593 236.2 L600 232 L602 212 Z" style="stroke-width:2.76"/>
<path class="l" d="M575 226.5 L551.5 261.5 M588 241.5 L576 265.5" style="stroke-width:1.84"/>
<!-- plate 1 -->
<path class="w h" d="M555 205 L556.5 230 L562.5 234.7 L570 224 L573.2 219.5 L600.5 205.8 L586.9 193 Q584 191 580.8 192.2 Z" style="stroke-width:2.99"/>
<path class="h" d="M555 205 L573.2 219.5 L600.5 205.8 M573 222.8 L602 209.6" style="stroke-width:2.53"/>
<ellipse cx="577" cy="205.5" rx="4.8" ry="2.8" transform="rotate(-6 577 205.5)" class="w l" style="stroke-width:2.07"/>
<!-- boss -->
<path class="w h" d="M533.7 265 Q536 258 542.8 257.5 Q549 258 552.7 262.8 L560.3 271.2 L559.5 281.8 L552.7 289.4 L542.8 286.4 L533.7 277.2 Z" style="stroke-width:2.76"/>
<ellipse cx="553.1" cy="277.2" rx="7.2" ry="10" transform="rotate(18 553.1 277.2)" class="w h" style="stroke-width:2.76"/>
<ellipse cx="553.3" cy="277.6" rx="3.2" ry="4.8" transform="rotate(18 553.3 277.6)" class="w l" style="stroke-width:1.84"/>
</g>

<!-- CRANKCASE MAIN BODY -->
<g id="body">
<!-- base / left foot -->
<path class="w h" d="M326 566.5 L312.5 573 L313 582.7 L305.5 587.5 L306 612.5 L320 618.7 L330 628.7 L340 633.7 L350 628.7 L376 643.7 L376 656 L387.5 670 L397.5 677.5 L415 677.5 L430 668.7 L460 650 L490 636 L570 600 L617.5 575 L632.5 565 L630 535 L615 527.5" style="stroke-width:2.76"/>
<path class="h" d="M306 587.5 L321 595 L340 607.5 L350 611 L377.5 633.7 L380 646 L402.5 656 L417.5 652.5 L430 646 L440 641" style="stroke-width:2.53"/>
<path class="l" d="M350 611 L350 628.7 M377.5 633.7 L376 643.7"/>
<path class="h" d="M340 572.5 L440 643" style="stroke-width:2.3"/>
<path class="w l" d="M321.7 591 L333.7 585 L346 593.7 L335 601 Z" style="stroke-width:2.3"/>
<path class="l" d="M330 587 L337 599"/>
<ellipse cx="354.5" cy="626" rx="2.8" ry="5.6" transform="rotate(-15 354.5 626)" class="w l" style="stroke-width:2.07"/>
<ellipse cx="405" cy="645" rx="5.6" ry="3.4" transform="rotate(-10 405 645)" class="w l" style="stroke-width:2.07"/>
<circle cx="440" cy="648.5" r="8" class="w h" style="stroke-width:2.76"/>
<ellipse cx="440.3" cy="648.8" rx="2.6" ry="3.6" class="w l" style="stroke-width:2.07"/>
<path class="l" d="M488.7 632.5 L488.7 642"/>
<!-- right foot -->
<path class="w h" d="M615 527.5 L625 531 L630 535 L632.5 565 L617.5 575 L600 580 L596 560 L607.5 542.5 Z" style="stroke-width:2.53"/>
<path class="l" d="M607.5 542.5 L625 543.5 L630 536 M625 543.5 L627 568"/>
<ellipse cx="613.7" cy="538.2" rx="4.6" ry="2.6" class="w l" style="stroke-width:1.84"/>
<circle cx="602.5" cy="567.5" r="8.4" class="w h" style="stroke-width:2.53"/>
<circle cx="603" cy="568" r="3.6" class="w l" style="stroke-width:2.07"/>

<!-- outer right rim + bottom arcs -->
<path class="h" d="M631.2 289.8 L638.8 303.4 L660 318.6 L661.6 335.3 L655.5 341.4 L646.4 355 L644.8 376.4 L642.5 412.5 L640 445 L637.5 462.5 L630 497.5 L615 527.5 L610 535 L600 552.5 Q586 578 567.5 595 Q540 612 510 622.5 Q490 629 472.5 632.5 L450 634" style="stroke-width:3.91"/>
<path class="h" d="M637.5 352 L637 412 L634.5 445 L631.5 463 L625 495 L612 522" style="stroke-width:2.07"/>
<path class="l" d="M586 529 Q573 552 556 569 Q536 587 510 599 Q488 608 463 610" style="stroke-width:1.95"/>
<path class="l" d="M588.5 531 Q575.5 555 558 572 Q538 590 511 602.5 Q489 611.5 463 613.5" style="stroke-width:1.95"/>

<!-- floor ledge -->
<path class="h" d="M440 545 L597.5 470" style="stroke-width:2.53"/>
<path class="h" d="M452.5 553.5 L598 479" style="stroke-width:2.53"/>
<ellipse cx="502.8" cy="559.1" rx="4.4" ry="6.2" transform="rotate(25 502.8 559.1)" class="w l" style="stroke-width:2.53"/>
<ellipse cx="558" cy="546" rx="4.4" ry="6.2" transform="rotate(25 558 546)" class="w l" style="stroke-width:2.53"/>
<!-- vertical double line -->
<path class="h" d="M418 544 L421.6 552 L436.7 565.2 Q446 570.5 448.2 578.5 L450.9 610.4" style="stroke-width:2.3"/>
<path class="h" d="M423.4 541.3 L427.8 549.2 L442 561.6 Q452 567.5 454.4 576.7 L456.5 610.4" style="stroke-width:2.3"/>
<path class="h" d="M427.8 540.4 L433 546.6 L447.3 558 Q458 564.5 460.6 575 L463 610.4" style="stroke-width:2.3"/>
<!-- web lines -->
<path class="h" d="M412 584 L437.5 625" style="stroke-width:2.53"/>
<path class="w h" d="M436.7 615.7 L463.3 619.2 L475.7 629.9 L468.6 637 L442 628 Z" style="stroke-width:2.3"/>
<path class="l" d="M447 618 L470 633"/>
</g>

<!-- CRANKCASE MID-LEFT -->
<g id="mid">
<!-- under-mount heavy line + shadows -->
<path class="h" d="M396 334.2 L431 335.6" style="stroke-width:3.45"/>
<path class="k" d="M428 337 L438 336 L441 343 L437 350 L430 348 Z"/>
<ellipse cx="431.5" cy="343" rx="1.6" ry="1.2" fill="#fff"/>
<!-- dark band w/ dashes upper -->
<path class="k" d="M412.5 378 L420 373.5 L465 383.5 L468 390 L462 391.5 L415 385.5 Z"/>
<path d="M424 380.5 L460 387" stroke="#fff" stroke-width="1.0" stroke-dasharray="2.5 5" fill="none"/>
<!-- double rib to bearing -->
<path class="w h" d="M405.6 386.9 L469.4 396 L471 400.5 L469.4 417.2 L420.8 412.7 L414 404 Z" style="stroke-width:3.22"/>
<path class="h" d="M415 396 L471 400.8" style="stroke-width:3.22"/>
<!-- left stub tube -->
<path class="w h" d="M390.4 382.3 L411.7 400.5 L410 414.2 L388.9 402 Z" style="stroke-width:2.76"/>
<ellipse cx="414" cy="407.4" rx="6.4" ry="8" transform="rotate(12 414 407.4)" class="w h" style="stroke-width:2.99"/>
<circle cx="414.2" cy="407.6" r="2.4" class="w l" style="stroke-width:2.07"/>
<!-- boss tube near bearing top -->
<path class="w h" d="M466.4 371.7 L489 383.8 L480 399 L461.8 380.8 Z" style="stroke-width:2.76"/>
<!-- lines between ribs and lower band -->
<path class="h" d="M403.5 415 L394.5 449.5" style="stroke-width:3.45"/>
<path class="h" d="M432 421.6 Q425 440 413 445.7 L399 448.9" style="stroke-width:2.99"/>
<path class="h" d="M437 419 L428.2 455.8" style="stroke-width:4.14"/>
<path class="h" d="M457.3 423 L454.8 454.5 M461 424 L458.5 456" style="stroke-width:2.07"/>
<!-- dark pillar left -->
<path class="k" d="M389 412 L398.5 413 L392.5 440 L388.5 462 L379 462 L384 440 Z"/>
<path d="M394 419 L388 455" stroke="#9a9a9a" stroke-width="0.9" stroke-dasharray="2 3" fill="none"/>
<!-- lower dark band with dashes -->
<path class="k" d="M379 458 L392 456.5 Q425 458 462 464 L468 472 L461 474 Q425 468 392 468 L378 470 Z"/>
<path d="M386 462.5 Q425 462.5 460 469" stroke="#fff" stroke-width="1.0" stroke-dasharray="2.5 6" fill="none"/>
<path class="h" d="M397 452 L456 458" style="stroke-width:2.3"/>
<!-- lower stub tube -->
<path class="w h" d="M377 477 L397.5 490.8 L386.9 512 L368.6 500 Z" style="stroke-width:2.53"/>
<path class="t" d="M379 480 L398 492.5"/>
<ellipse cx="395.2" cy="503" rx="6" ry="8" transform="rotate(18 395.2 503)" class="w h" style="stroke-width:2.76"/>
<circle cx="395.4" cy="503.2" r="2.4" class="w l" style="stroke-width:2.07"/>
<path class="k" d="M386 473 L398 471 L412 474 L416 481 L414 488 L404 489 L396 486 Z"/>
<path d="M394 476 L400 475 M403 480 L409 479 M401 484 L407 484" stroke="#fff" stroke-width="2.3" fill="none"/>
<path class="k" d="M367.9 507 Q372 506 376 510.5 Q378.5 514 378.8 517 Q372 515.5 367.9 507 Z"/>
<!-- lower hole + housing -->
<path class="h" d="M428.4 470 L422 496.8 M433 470.5 L426.5 497" style="stroke-width:2.76"/>
<path class="h" d="M415.7 480 Q411 488 410.6 498 L410.6 512 Q412 521 418 527 Q422 532 428.4 536 Q435 539 441 537.3 Q448 534 451 526 Q454.5 519 453.7 512 Q452 506 448.6 503 Q444 498.5 438.5 498 Q431 498.5 425.8 503" style="stroke-width:2.76"/>
<path class="h" d="M419.5 484 Q415 492 415 500 L415 511 Q417 520 422 524" style="stroke-width:2.3"/>
<ellipse cx="437.2" cy="517.5" rx="11" ry="13.4" transform="rotate(14 437.2 517.5)" class="w hh" style="stroke-width:3.68"/>
<path class="l" d="M450 512 Q452 522 447 530 Q443 535 437 535.5" style="stroke-width:1.84"/>
<path class="w h" d="M394.2 534.7 L415.7 525.9 L420.8 537.3 L399.2 547.4 Q394 546 393.5 540 Z" style="stroke-width:2.76"/>
<path class="h" d="M419.5 541 L424 556 M424.5 539.5 L429.5 554" style="stroke-width:2.3"/>
<!-- bottom-left dark mass -->
<path class="k" d="M304 509 L322 513.5 L372 515.5 L388 518.5 L387 525 L350 526.5 L320 523.5 L305 517 Z"/>
<path d="M314 517 L380 521.5" stroke="#fff" stroke-width="2.07" stroke-dasharray="4.5 5.5" fill="none"/>
<!-- wedge of converging dark lines -->
<path class="k" d="M346 524 L352 523 L404 566 L406.5 571 L396 566 L352 536 L340 531 Z"/>
<path d="M352 528.5 L396 562 M348 531 L388 558" stroke="#fff" stroke-width="1.49" fill="none"/>
<path class="h" d="M386.4 522 L398 548 L409 575 L412 584 L432 610" style="stroke-width:2.99"/>
<!-- outer curve from flange to foot -->
<path class="l" d="M292 517 Q306 524 316 538 Q324 550 330 563" style="stroke-width:1.84"/>
<path class="l" d="M296 515.5 Q310 523 320 537 Q327 548 332 560" style="stroke-width:1.61"/>
<!-- drain hook blob -->
<path class="k" d="M333 536 L349 537 L353 545 L351 555 L347.5 562 L344 558 L341 571 L336 574 L331 569 L329 556 L330.5 545 Z"/>
<ellipse cx="339.5" cy="547" rx="4.6" ry="3" fill="#fff"/>
<ellipse cx="330.5" cy="568" rx="3" ry="3.4" fill="#fff" stroke="#111" stroke-width="1.0"/>
<path d="M345 551 L347 559 M335 556 L337 566 M333 540 L347 541" stroke="#fff" stroke-width="1.61" fill="none"/>
</g>

<!-- CRANKCASE INTERIOR -->
<g id="interior">
<!-- top rim white bands -->
<path class="w" d="M441 331 L457 305 Q500 288 537 284 L560 293 Q500 300 457 320 Z"/>
<g class="h" style="stroke-width:2.3">
<path d="M458 304 Q498 289 537 284.5"/>
<path d="M458.5 309 Q500 293.5 546 288"/>
<path d="M459 314 Q500 298 552 291"/>
</g>
<path class="l" d="M481 295 L483 305 M505 289.5 L507 298"/>
<!-- thick dark rim -->
<path d="M456 321 Q472 312 491 306 Q520 297.5 560 294.5 L590 291.5" fill="none" stroke="#151515" stroke-width="6.2" stroke-linecap="round"/>
<path class="k" d="M441 326 L458 317 L462 322 L446 333 Z"/>
<!-- dark pillar + shaded pocket under rim -->
<path class="k" d="M470 316 L508 305 L516 307 L516 339 L511 336 L506 316 L492 320 L485 338 L470 345 L462 346 L470 333 Z"/>
<path d="M490 324 L500 321 L499 333 L489 337 Z M476 333 L484 330 L483 338 L475 341 Z" fill="#fff"/>
<path d="M462 345 L486 321" stroke="#888" stroke-width="3.45" fill="none"/>
<!-- small ear on rim -->
<ellipse cx="543" cy="299" rx="3.6" ry="3" class="w l" style="stroke-width:2.3"/>
<!-- horizontal rib -->
<path class="w h" d="M419.8 369.7 L422.8 362 L460 345.5 L506 333.2 L509 339 L470 351 L425 377 Z" style="stroke-width:2.76"/>
<path class="k" d="M412 378.8 L425 377 L466 381 L470 388 L414 385 Z"/>
<path d="M420 381.5 L462 384.5" stroke="#fff" stroke-width="1.0" stroke-dasharray="3 4" fill="none"/>
<!-- diagonal rib bundle (right, main) -->
<path class="w" d="M496 378 L560 306 L578 298 L586 312 L520 388 Z"/>
<g class="l" style="stroke-width:1.95">
<path d="M496.5 377.5 L562 305"/>
<path d="M499.5 379.5 L565 307.5"/>
<path d="M503 381.5 L568.5 309.5"/>
<path d="M506.5 383 L572 312"/>
<path d="M510.5 385 L575.5 315"/>
<path d="M514.5 386.5 L579 318"/>
<path d="M518 388.5 L582 322"/>
</g>
<!-- small crossing bundle -->
<g stroke="#555" stroke-width="1.1" fill="none">
<path d="M459 347 L482 374 M461.5 345.5 L484 372 M464 344.5 L486 370.5 M457 349 L480 376"/>
<path d="M460.8 345.3 L485 321 M463 347 L487 323"/>
</g>
<!-- second bundle lower right of bearing -->
<path class="w" d="M556 410 L592 382 L597 392 L560 424 Z"/>
<g class="l" style="stroke-width:2.3">
<path d="M557 410 L590 383.5"/>
<path d="M558.5 414 L593 386" style="stroke-width:2.99"/>
<path d="M558 419 L594.4 389"/>
<path d="M559 423.5 L596 393" style="stroke-width:2.99"/>
</g>
<!-- steeper lines + dark outer arc between bundle and half-bore -->
<g class="l" style="stroke-width:1.84">
<path d="M524 386 L560 327"/>
<path d="M528 388 L563.5 330"/>
<path d="M532.5 389.5 L566.5 334"/>
</g>
<path class="k" d="M565 306 L574 306.5 Q570.5 320 571.5 334 Q573 346 577 353 Q583 363 592 368.5 L610 376 L611 383 L588 377 Q574 369 567.5 356 Q562 344 561.5 332 Q562 318 565 306 Z"/>
<path d="M567.5 316 Q565 332 569 348 M571 358 Q578 368 588 372.5" stroke="#fff" stroke-width="1.49" fill="none" stroke-dasharray="7 3"/>
<g class="l" style="stroke-width:1.72">
<path d="M549 362 L561 353 M552 366 L564 357 M555.5 369.5 L567 361 M559 373 L570 365"/>
</g>
<!-- HALF BORE top right -->
<path class="k" d="M578 299 L590 293 L592 297 L584 316 Q580 332 586 348 Q596 362 613 358 L620 350 L626 356 Q612 372 592 366 Q572 356 570 330 Q570 312 578 299 Z"/>
<path d="M574.5 313 Q572.5 332 578 350 Q584 362 596 366" stroke="#fff" stroke-width="1.2" fill="none" stroke-dasharray="9 4"/>
<path d="M584 303 Q581 320 582.5 334 Q585 350 597 354.8 Q609 356.5 619 348" fill="none" stroke="#fff" stroke-width="4.4" stroke-linecap="round"/>
<path class="w h" d="M608.4 292.8 Q610 289.5 613 289 L625 289.8 Q630 300 628 311 Q626 328 613 338.4 Q605 344 596 344.5 Q588 343 585.5 332 Q583.5 318 585 308 Q588 298 597 296 Z" style="stroke-width:2.76"/>
<path class="k" d="M589 343 Q600 349 613 346 L618 349.5 Q608 356 597 353.5 Q590 350.5 587.5 345 Z"/>
<!-- ear w/ hole near rim end -->
<ellipse cx="597.7" cy="304.2" rx="7.6" ry="9.8" transform="rotate(15 597.7 304.2)" class="w h" style="stroke-width:2.76"/>
<ellipse cx="597.9" cy="304.4" rx="4" ry="5.6" transform="rotate(15 597.9 304.4)" class="w l" style="stroke-width:1.84"/>
<path class="w" d="M579 299 L588.6 307.5 L590 296 Z"/>
<!-- right housing -->
<path class="h" d="M631.2 289.8 L637.2 306.5 L652.4 323.2 L655.5 341.4" style="stroke-width:2.53"/>
<path class="k" d="M634 302 L640 308 L641 342 L636 348 L634 330 Z"/>
<path class="w l" d="M640.5 312 L650 322 L652 339 L643 341 Z"/>
<path class="l" d="M626 330 L632 322 L633 345 L627 352"/>
<!-- boss under half-bore -->
<path class="w h" d="M617 352 L626 356 L620 378 L612 372 Z" style="stroke-width:2.3"/>
<ellipse cx="632.7" cy="364.2" rx="9" ry="11" transform="rotate(15 632.7 364.2)" class="w h" style="stroke-width:2.76"/>
<ellipse cx="632.9" cy="364.4" rx="4.8" ry="6.6" transform="rotate(15 632.9 364.4)" class="w l" style="stroke-width:2.07"/>
<path class="w l" d="M622 345 L632 340 L638 346 L629 352 Z"/>
<!-- MAIN BEARING -->
<ellipse cx="499.5" cy="438.7" rx="38" ry="55.7" transform="rotate(15 499.5 438.7)" fill="#2a2a2a" stroke="#111" stroke-width="2.76"/>
<ellipse cx="501.5" cy="437" rx="35" ry="53" transform="rotate(15 501.5 437)" fill="#fff"/>
<path d="M466 420 Q458 450 472 478 Q482 492 497 494" fill="none" stroke="#fff" stroke-width="1.2" stroke-dasharray="3 4"/>
<ellipse cx="503.5" cy="437.5" rx="30.4" ry="48.7" transform="rotate(15 503.5 437.5)" class="w h" style="stroke-width:2.99"/>
<ellipse cx="504.6" cy="438.2" rx="27" ry="45" transform="rotate(15 504.6 438.2)" fill="#242424"/>
<ellipse cx="505.5" cy="438.4" rx="23.5" ry="40.5" transform="rotate(15 505.5 438.4)" fill="none" stroke="#8c8c8c" stroke-width="1.1"/>
<ellipse cx="508.4" cy="438.7" rx="19.3" ry="34.1" transform="rotate(15 508.4 438.7)" class="w h" style="stroke-width:2.76"/>
<path class="l" d="M523 410 Q531 436 520 463 Q513 474 503 471" style="stroke-width:2.3"/>
<path class="l" d="M499 462 Q512 470 524 456" style="stroke-width:2.07"/>
<path class="l" d="M502 455 Q503 432 515 412 M506 461 Q510 438 521 420" style="stroke-width:2.07"/>
<path class="l" d="M513 417 L521 424" style="stroke-width:1.61"/>
<!-- bosses around bearing -->
<circle cx="487.5" cy="391" r="7.4" class="w h" style="stroke-width:2.99"/>
<circle cx="487.8" cy="391.4" r="3.4" class="w l" style="stroke-width:2.07"/>
<!-- link (two bosses in capsule) -->
<path class="w hh" d="M556.5 391 Q557 382 565 377 Q571 369.5 577.5 372.5 Q582 377 578 384 L570 395 Q563 401 558.5 397 Z" style="stroke-width:3.45"/>
<ellipse cx="563.6" cy="388.6" rx="4.6" ry="6" transform="rotate(25 563.6 388.6)" class="w h" style="stroke-width:2.53"/>
<ellipse cx="572.4" cy="378.6" rx="3.6" ry="5" transform="rotate(25 572.4 378.6)" class="w h" style="stroke-width:2.53"/>
<!-- boss C -->
<circle cx="552.8" cy="415" r="6.6" class="w hh" style="stroke-width:3.45"/>
<circle cx="553" cy="415.3" r="2.6" class="w l" style="stroke-width:2.07"/>
<!-- slot -->
<path class="w h" d="M591 400 Q590 403.5 594 404.5 L601 406.5 Q604.5 406.5 604.5 403.5 Q604 401 600 400.5 Z" style="stroke-width:2.99"/>
<path class="h" d="M594 392 L599 394" style="stroke-width:2.76"/>
<!-- boss D + loop -->
<path class="w h" d="M613 412 Q617 405 622 408 Q627 413 625 420 Q622 426 616 425" style="stroke-width:2.76"/>
<ellipse cx="609.6" cy="419.4" rx="6.4" ry="7.4" transform="rotate(15 609.6 419.4)" class="w hh" style="stroke-width:3.45"/>
<ellipse cx="609.8" cy="419.6" rx="2.6" ry="3.4" transform="rotate(15 609.8 419.6)" class="w l" style="stroke-width:2.07"/>
<!-- SECOND HOLE with thick contour -->
<path class="w hh" d="M537.7 431 L553 433.5 Q556 426 562 420.5 Q570 414 578.5 413.5 Q588 415 592.7 423 Q595 432 594.4 443.3 L610.4 438 L606.8 452 L591 456.6 Q588 466 580 472 Q570 478 562 473.5 Q555 468 553.7 452 L534 455.7 Z" style="stroke-width:3.91"/>
<path class="w" d="M556 441 Q557 425 570 418.5 Q584 416 590 428 Q592.5 443 588 458 Q581 472 569 473 Q558 470 556.5 455 Z"/>
<path class="h" d="M553.5 436 Q554 444 553.8 451" style="stroke-width:2.3"/>
<path class="w h" d="M594 446 L596.5 447 L596 454 L592 455" style="stroke-width:2.3"/>
<!-- cylinder boss below bearing -->
<path class="w h" d="M521 488 Q518 497 524 504 L536 511 L546 499 L538 484 Q528 480 521 488 Z" style="stroke-width:2.76"/>
<ellipse cx="541" cy="493" rx="7.6" ry="9.6" transform="rotate(15 541 493)" class="w h" style="stroke-width:2.76"/>
<ellipse cx="541.3" cy="493.4" rx="3.8" ry="5.4" transform="rotate(15 541.3 493.4)" class="w l" style="stroke-width:1.84"/>
<path class="k" d="M527 480 L533 478 L537 488 L531 490 Z"/>
<!-- left boss below bearing -->
<path class="w h" d="M441 477 Q438 486 442.3 494 L446 497 L460 504.5 L470 498 L468.9 490.4 L447 477.5 Q443.5 475 441 477 Z" style="stroke-width:2.76"/>
<path class="l" d="M446 476.5 Q442.5 486 447 495.5" style="stroke-width:1.84"/>
<ellipse cx="466.3" cy="496.8" rx="7.8" ry="9.8" transform="rotate(15 466.3 496.8)" class="w h" style="stroke-width:2.99"/>
<ellipse cx="466.5" cy="497" rx="3.8" ry="5.2" transform="rotate(15 466.5 497)" class="w l" style="stroke-width:2.07"/>
<!-- right lower fins -->
<path class="w" d="M607 452 L631 460 L614 518 L590 535 L584 529 Z"/>
<g class="h" style="stroke-width:2.53">
<path d="M608 453 L586 529"/>
<path d="M612.5 454 L589.5 531"/>
<path d="M617 455.5 L593 532.5"/>
<path d="M621.5 457 L597 531"/>
<path d="M626 459 L602 527"/>
<path d="M630.5 461 L609 521"/>
</g>
<path class="h" d="M607 452.5 L618 449 L631 455 L630.5 462" style="stroke-width:2.76"/>
<path class="k" d="M584 528 L591 537 L599 531 L593 525 Z"/>
<path class="w h" d="M612 443.5 L620 439.5 L627 446 L618 450 Z" style="stroke-width:2.53"/>
<!-- right inner rim lines -->
<path class="h" d="M621 377.7 L619.2 402.5 M626 379 L625 404 L629 428 L627 455" style="stroke-width:2.53"/>
</g>

<!-- LABELS + LEADERS -->
<g id="leaders" class="l" style="stroke-width:1.9">
<path d="M169 61 L118 98"/>
<path d="M263 130 L214 168"/>
<path d="M331 195 L292 221"/>
<path d="M389.5 33.7 L435 22"/>
<path d="M548 37.5 L451 46.2"/>
<path d="M546 97.5 L495 79.5"/>
<path d="M382 128.7 L442 122.5"/>
<path d="M175.5 348.7 L246.5 373"/>
<path d="M750.6 301 L701 350"/>
<path d="M764 358.7 L715 380"/>
<path d="M776 387.5 L679 413.4"/>
<path d="M793.7 475 L748.7 484.5"/>
<path d="M825 508.2 L771 508.2"/>
<path d="M881 584.2 L821 586.7"/>
<path d="M902.5 658.7 L863.7 655"/>
<path d="M902.5 658.7 L846 698.7"/>
<path d="M628 620 L665 585"/>
<path d="M272 607.5 L313.7 637"/>
<path d="M223.7 638 L261 661"/>
<path d="M1012 333.6 L948.5 333.6"/>
</g>
<g id="labels" font-size="38.5" stroke="#111" stroke-width="0.8" opacity="0.999">
<text transform="translate(168,66) scale(0.785,1)">2</text>
<text transform="translate(263,135) scale(0.785,1)">3</text>
<text transform="translate(330,201) scale(0.785,1)">2</text>
<text transform="translate(375,49) scale(0.785,1)">5</text>
<text transform="translate(547,49) scale(0.785,1)">6</text>
<text transform="translate(543,111) scale(0.785,1)">7</text>
<text transform="translate(366,140.5) scale(0.785,1)">4</text>
<text transform="translate(166.5,361) scale(0.785,1)">1</text>
<text transform="translate(748,307.5) scale(0.785,1)">14</text>
<text transform="translate(762,360.5) scale(0.785,1)">13</text>
<text transform="translate(774,402.5) scale(0.785,1)">15</text>
<text transform="translate(791,487) scale(0.785,1)">11</text>
<text transform="translate(829,529) scale(0.785,1)">12</text>
<text transform="translate(880,600) scale(0.785,1)">16</text>
<text transform="translate(901,676) scale(0.785,1)">17</text>
<text transform="translate(610,654) scale(0.785,1)">10</text>
<text transform="translate(256,614) scale(0.785,1)">8</text>
<text transform="translate(208.5,640) scale(0.785,1)">9</text>
<text transform="translate(1018,340.5) scale(1.05,1)" font-size="27">18</text>
</g>

</g>
</svg>
</body></html>
